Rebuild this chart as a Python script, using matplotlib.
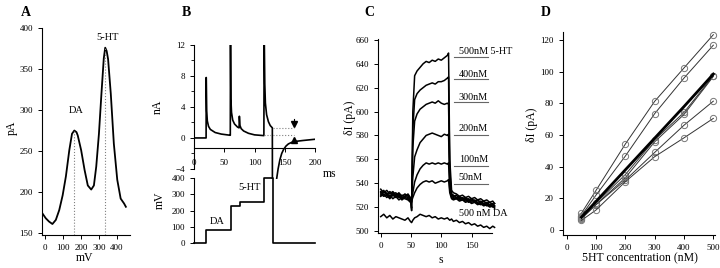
import numpy as np
import matplotlib.pyplot as plt

plt.rcParams['font.family'] = ['Liberation Serif', 'DejaVu Serif']
plt.rcParams['axes.linewidth'] = 0.8
plt.rcParams['xtick.major.size'] = 3
plt.rcParams['ytick.major.size'] = 3
plt.rcParams['xtick.major.width'] = 0.7
plt.rcParams['ytick.major.width'] = 0.7
plt.rcParams['xtick.labelsize'] = 6.5
plt.rcParams['ytick.labelsize'] = 6.5

# ---- panel A: voltammogram
a_mv = [-15, 4, 22, 41, 60, 79, 98, 116, 135, 150, 163, 175, 182, 201, 220, 238, 257, 272,
        285, 300, 314, 327, 335, 343, 351, 366, 383, 402, 421, 440, 450]
a_pa = [174, 168, 164, 161, 166, 178, 196, 219, 251, 271, 275, 273, 269, 251, 227, 208, 203, 208,
        231, 271, 320, 363, 376, 372, 362, 320, 259, 215, 192, 186, 182]
a_peaks = [163, 335]
a_peak_vals = [275, 376]

# ---- panel B: current (nA) and command voltage (mV)
b_ms = [0, 20, 20.2, 21, 22, 24, 27, 35, 45, 59.5, 60, 60.3, 61, 62, 64, 67, 72, 74.5, 75, 76,
        78, 82, 90, 100, 115.5, 116, 117, 118, 120, 123, 126, 129.5, 129.6, 136, 139, 142, 145,
        148, 152, 156, 164, 180, 200]
b_na = [0, 0, 7.8, 3.5, 2.2, 1.5, 1.1, 0.7, 0.5, 0.35, 0.35, 14, 5, 3.3, 2.3, 1.8, 1.4, 1.3, 2.8, 1.6,
        1.2, 0.9, 0.6, 0.4, 0.3, 14, 7, 4.5, 3.0, 2.1, 1.6, 1.3, -5.6, -5.6, -4.0, -2.8, -2.0,
        -1.5, -1.05, -0.77, -0.48, -0.33, -0.17]
b_step_ms = [0, 20, 20, 60.5, 60.5, 76, 76, 115.5, 115.5, 130, 130, 200]
b_step_mv = [0, 0, 80, 80, 230, 230, 250, 250, 400, 400, 0, 0]
b_upper_level = 1.3
b_lower_level = 0.33

# ---- panel C: current vs time for several concentrations
t_c = [0, 5, 10, 15, 20, 25, 30, 35, 40, 45, 49, 51, 53, 56, 60, 65, 70, 75, 80, 85, 90, 95, 100,
       105, 110, 112, 114, 117, 120, 125, 130, 135, 140, 145, 150, 155, 160, 165, 170, 175, 180, 185, 188]
c500 = [535, 532, 534, 531, 533, 530, 532, 529, 531, 529, 527, 519, 600, 630, 634, 637, 640, 642, 641, 643,
        642, 644, 643, 645, 647, 649, 560, 534, 532, 531, 529, 530, 528, 529, 527, 528, 526, 527, 525, 526,
        524, 525, 523]
c400 = [532, 534, 530, 533, 531, 532, 528, 530, 529, 531, 528, 517, 585, 610, 615, 618, 620, 622, 623, 624,
        623, 625, 625, 626, 628, 629, 550, 531, 530, 528, 529, 527, 528, 526, 527, 525, 526, 524, 525, 523,
        524, 522, 523]
c300 = [530, 533, 531, 529, 532, 530, 531, 528, 529, 530, 527, 524, 570, 592, 598, 602, 604, 606, 607, 608,
        607, 609, 607, 606, 607, 606, 545, 530, 529, 530, 527, 528, 526, 527, 525, 526, 524, 525, 523, 524,
        522, 523, 521]
c200 = [533, 530, 532, 528, 531, 529, 530, 527, 529, 528, 526, 527, 545, 562, 568, 574, 577, 580, 581, 582,
        581, 580, 579, 581, 580, 581, 540, 529, 528, 527, 528, 526, 527, 524, 526, 525, 523, 524, 522, 523,
        521, 522, 520]
c100 = [531, 529, 530, 527, 530, 528, 529, 526, 528, 527, 525, 526, 532, 541, 547, 552, 555, 557, 556, 557,
        556, 557, 556, 557, 556, 557, 535, 528, 527, 528, 526, 527, 525, 526, 524, 525, 523, 522, 523, 521,
        522, 520, 521]
c50 = [529, 531, 528, 530, 527, 529, 526, 528, 527, 526, 524, 525, 528, 532, 536, 539, 541, 542, 541, 542,
       540, 541, 542, 541, 542, 543, 532, 527, 526, 527, 525, 526, 524, 525, 523, 524, 522, 523, 521, 522,
       520, 521, 519]
cDA = [512, 514, 511, 513, 510, 512, 511, 510, 509, 511, 508, 507, 509, 511, 512, 514, 513, 512, 513, 511,
       512, 510, 511, 510, 511, 510, 509, 510, 508, 509, 507, 508, 506, 507, 505, 506, 504, 505, 503, 504,
       502, 504, 503]
c_labels = ['500nM 5-HT', '400nM', '300nM', '200nM', '100nM', '50nM', '500 nM DA']
c_label_y = [650, 631, 612, 586, 560, 545, 515]
c_bar_y = [645.8, 627.4, 608, 580.5, 554.6, 539.5]

# ---- panel D: calibration lines
d_conc = [50, 100, 200, 300, 400, 500]
d1 = [10.5, 25, 54.3, 81.3, 102.4, 123.4]
d2 = [9, 22, 46.7, 73.5, 96, 116.8]
d3 = [8, 17, 35, 57, 74.3, 97.5]
d4 = [7.5, 16, 33, 55.7, 73, 97]
d5 = [7, 16, 31.5, 49, 66.2, 81.4]
d6 = [6, 12.6, 30.5, 46.3, 58.2, 70.5]
d_mean = [8, 18, 38, 58, 78, 98.5]

W, H = 720, 268
fig = plt.figure(figsize=(W / 100, H / 100), dpi=100)


def add_ax(l, t, r, b):
    ax = fig.add_axes([l / W, 1 - b / H, (r - l) / W, (b - t) / H])
    ax.spines['top'].set_visible(False)
    ax.spines['right'].set_visible(False)
    ax.patch.set_alpha(0)
    return ax


def ftext(x, y, s, **kw):
    kw.setdefault('ha', 'center')
    kw.setdefault('va', 'center')
    fig.text(x / W, 1 - y / H, s, **kw)


# A
axA = add_ax(42, 28, 130, 235)
axA.plot(a_mv, a_pa, color='black', lw=1.3)
for xp, yp in zip(a_peaks, a_peak_vals):
    axA.plot([xp, xp], [147.6, yp], color='gray', lw=0.8, ls=':')
axA.set_xlim(-17, 473)
axA.set_ylim(147.6, 400)
axA.set_xticks([0, 100, 200, 300, 400])
axA.set_yticks([150, 200, 250, 300, 350, 400])
axA.text(172, 300, 'DA', fontsize=7.5, ha='center', va='center')
axA.text(345, 389, '5-HT', fontsize=7.5, ha='center', va='center')

# B top
axB = add_ax(194, 45, 315, 179)
axB.plot(b_ms, b_na, color='black', lw=1.2)
axB.plot([130, 165], [b_upper_level, b_upper_level], color='gray', lw=0.8, ls=':')
axB.plot([116, 165], [b_lower_level, b_lower_level], color='gray', lw=0.8, ls=':')
axB.plot([165, 165], [2.4, 1.8], color='black', lw=0.8)
axB.plot([165], [1.75], marker='v', color='black', ms=4)
axB.plot([165], [-0.3], marker='^', color='black', ms=4)
axB.set_xlim(0, 200)
axB.set_ylim(-5.3, 12)
axB.spines['bottom'].set_position(('data', -1.3))
axB.spines['left'].set_bounds(-4, 12)
axB.set_xticks([0, 50, 100, 150, 200])
axB.set_yticks([-4, 0, 4, 8, 12])
axB.set_yticks([-2, 2, 6, 10], minor=True)
axB.tick_params(axis='y', which='minor', length=2, width=0.6)
axB.tick_params(axis='x', pad=5)

# B bottom
axV = add_ax(194, 178, 315, 243)
axV.plot(b_step_ms, b_step_mv, color='black', lw=1.2, clip_on=False)
axV.set_xlim(0, 200)
axV.set_ylim(0, 400)
axV.spines['bottom'].set_visible(False)
axV.set_xticks([])
axV.set_yticks([0, 100, 200, 300, 400])
axV.text(38, 130, 'DA', fontsize=7.5, ha='center', va='center')
axV.text(91, 340, '5-HT', fontsize=7.5, ha='center', va='center')

# C
axC = add_ax(378, 39.3, 497, 233)
for tr in [c500, c400, c300, c200, c100, c50, cDA]:
    axC.plot(t_c, tr, color='black', lw=1.1)
for lab, ly in zip(c_labels, c_label_y):
    axC.text(129, ly, lab, fontsize=7.3, ha='left', va='center')
for by in c_bar_y:
    axC.plot([121.5, 177.6], [by, by], color='#666666', lw=0.8, clip_on=False)
axC.set_xlim(-4.5, 192)
axC.set_ylim(498.3, 660.5)
axC.spines['bottom'].set_bounds(-4.5, 183)
axC.set_xticks([0, 50, 100, 150])
axC.set_yticks(np.arange(500, 661, 20))

# D
axD = add_ax(563, 31.7, 715, 235)
for s in [d1, d2, d3, d4, d5, d6]:
    axD.plot(d_conc, s, color='#333333', lw=0.7, marker='o', ms=4.5,
             mfc='none', mec='#777777', mew=0.7, clip_on=False)
axD.plot(d_conc, d_mean, color='black', lw=2.0)
axD.set_xlim(-12.6, 505.7)
axD.set_ylim(-3.2, 125.3)
axD.set_xticks([0, 100, 200, 300, 400, 500])
axD.set_yticks([0, 20, 40, 60, 80, 100, 120])

# labels
for lt, x in zip('ABCD', [26, 186, 369, 546]):
    ftext(x, 12, lt, fontsize=10, fontweight='bold')
ftext(12, 128, 'pA', fontsize=8.5, rotation=90)
ftext(85, 258, 'mV', fontsize=8.5)
ftext(158, 107, 'nA', fontsize=8.5, rotation=90)
ftext(160, 200, 'mV', fontsize=8.5, rotation=90)
ftext(330, 174, 'ms', fontsize=8.5)
ftext(350, 118, 'δI (pA)', fontsize=8.5, rotation=90)
ftext(441, 260, 's', fontsize=8.5)
ftext(532, 125, 'δI (pA)', fontsize=8.5, rotation=90)
ftext(640, 258, '5HT concentration (nM)', fontsize=8.5)

fig.savefig('out.png', dpi=100)
